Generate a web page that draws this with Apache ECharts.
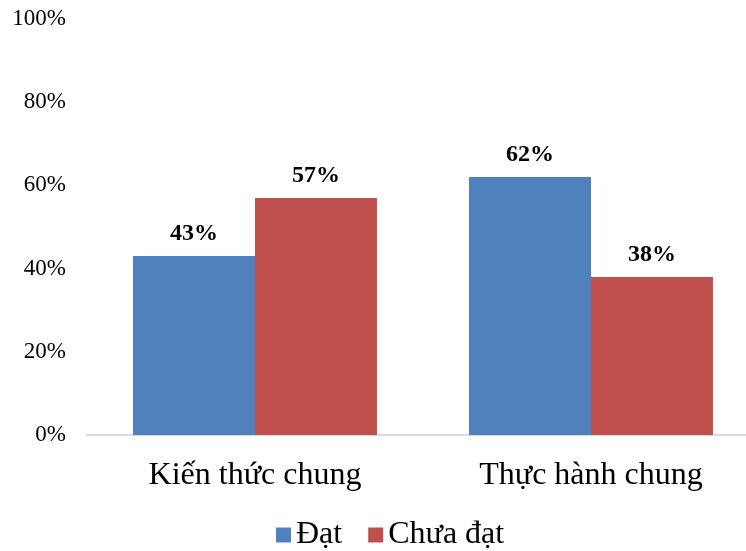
<!DOCTYPE html>
<html><head><meta charset="utf-8">
<script src="https://cdn.jsdelivr.net/npm/echarts@6/dist/echarts.min.js"></script>
<style>html,body{margin:0;padding:0;background:#fff}#c{width:746px;height:551px}</style>
</head><body><div id="c"></div>
<script>
const categories = ['Kiến thức chung', 'Thực hành chung'];
const seriesNames = ['Đạt', 'Chưa đạt'];
const datValues = [43, 62];
const chuaDatValues = [57, 38];
const yTicks = [0, 20, 40, 60, 80, 100];

const font = 'Liberation Serif';
const chart = echarts.init(document.getElementById('c'));
const labelCfg = {show: true, position: 'top', distance: 10, formatter: p => p.value + '%',
  fontFamily: font, fontWeight: 'bold', fontSize: 24, color: '#000'};
chart.setOption({
  animation: false,
  grid: {left: 87, width: 672, top: 19, height: 416, containLabel: false, outerBoundsMode: 'none'},
  legend: {data: seriesNames, top: 514, left: 271, itemWidth: 15, itemHeight: 15, itemGap: 26,
    textStyle: {fontFamily: font, fontSize: 32, color: '#000'}, icon: 'rect'},
  xAxis: {type: 'category', data: categories,
    axisLine: {lineStyle: {color: '#d9d9d9', width: 2}}, axisTick: {show: false},
    axisLabel: {fontFamily: font, fontSize: 32, color: '#000', margin: 25}},
  yAxis: {type: 'value', min: yTicks[0], max: yTicks[yTicks.length-1], interval: 20,
    axisLine: {show: false}, axisTick: {show: false}, splitLine: {show: false},
    axisLabel: {formatter: '{value}%', fontFamily: font, fontSize: 23, color: '#000', margin: 21}},
  series: [
    {name: seriesNames[0], type: 'bar', data: datValues, barGap: '0%', barCategoryGap: '27.4%',
     itemStyle: {color: '#4F81BD'}, label: labelCfg},
    {name: seriesNames[1], type: 'bar', data: chuaDatValues,
     itemStyle: {color: '#C0504D'}, label: labelCfg}
  ]
});
</script></body></html>
